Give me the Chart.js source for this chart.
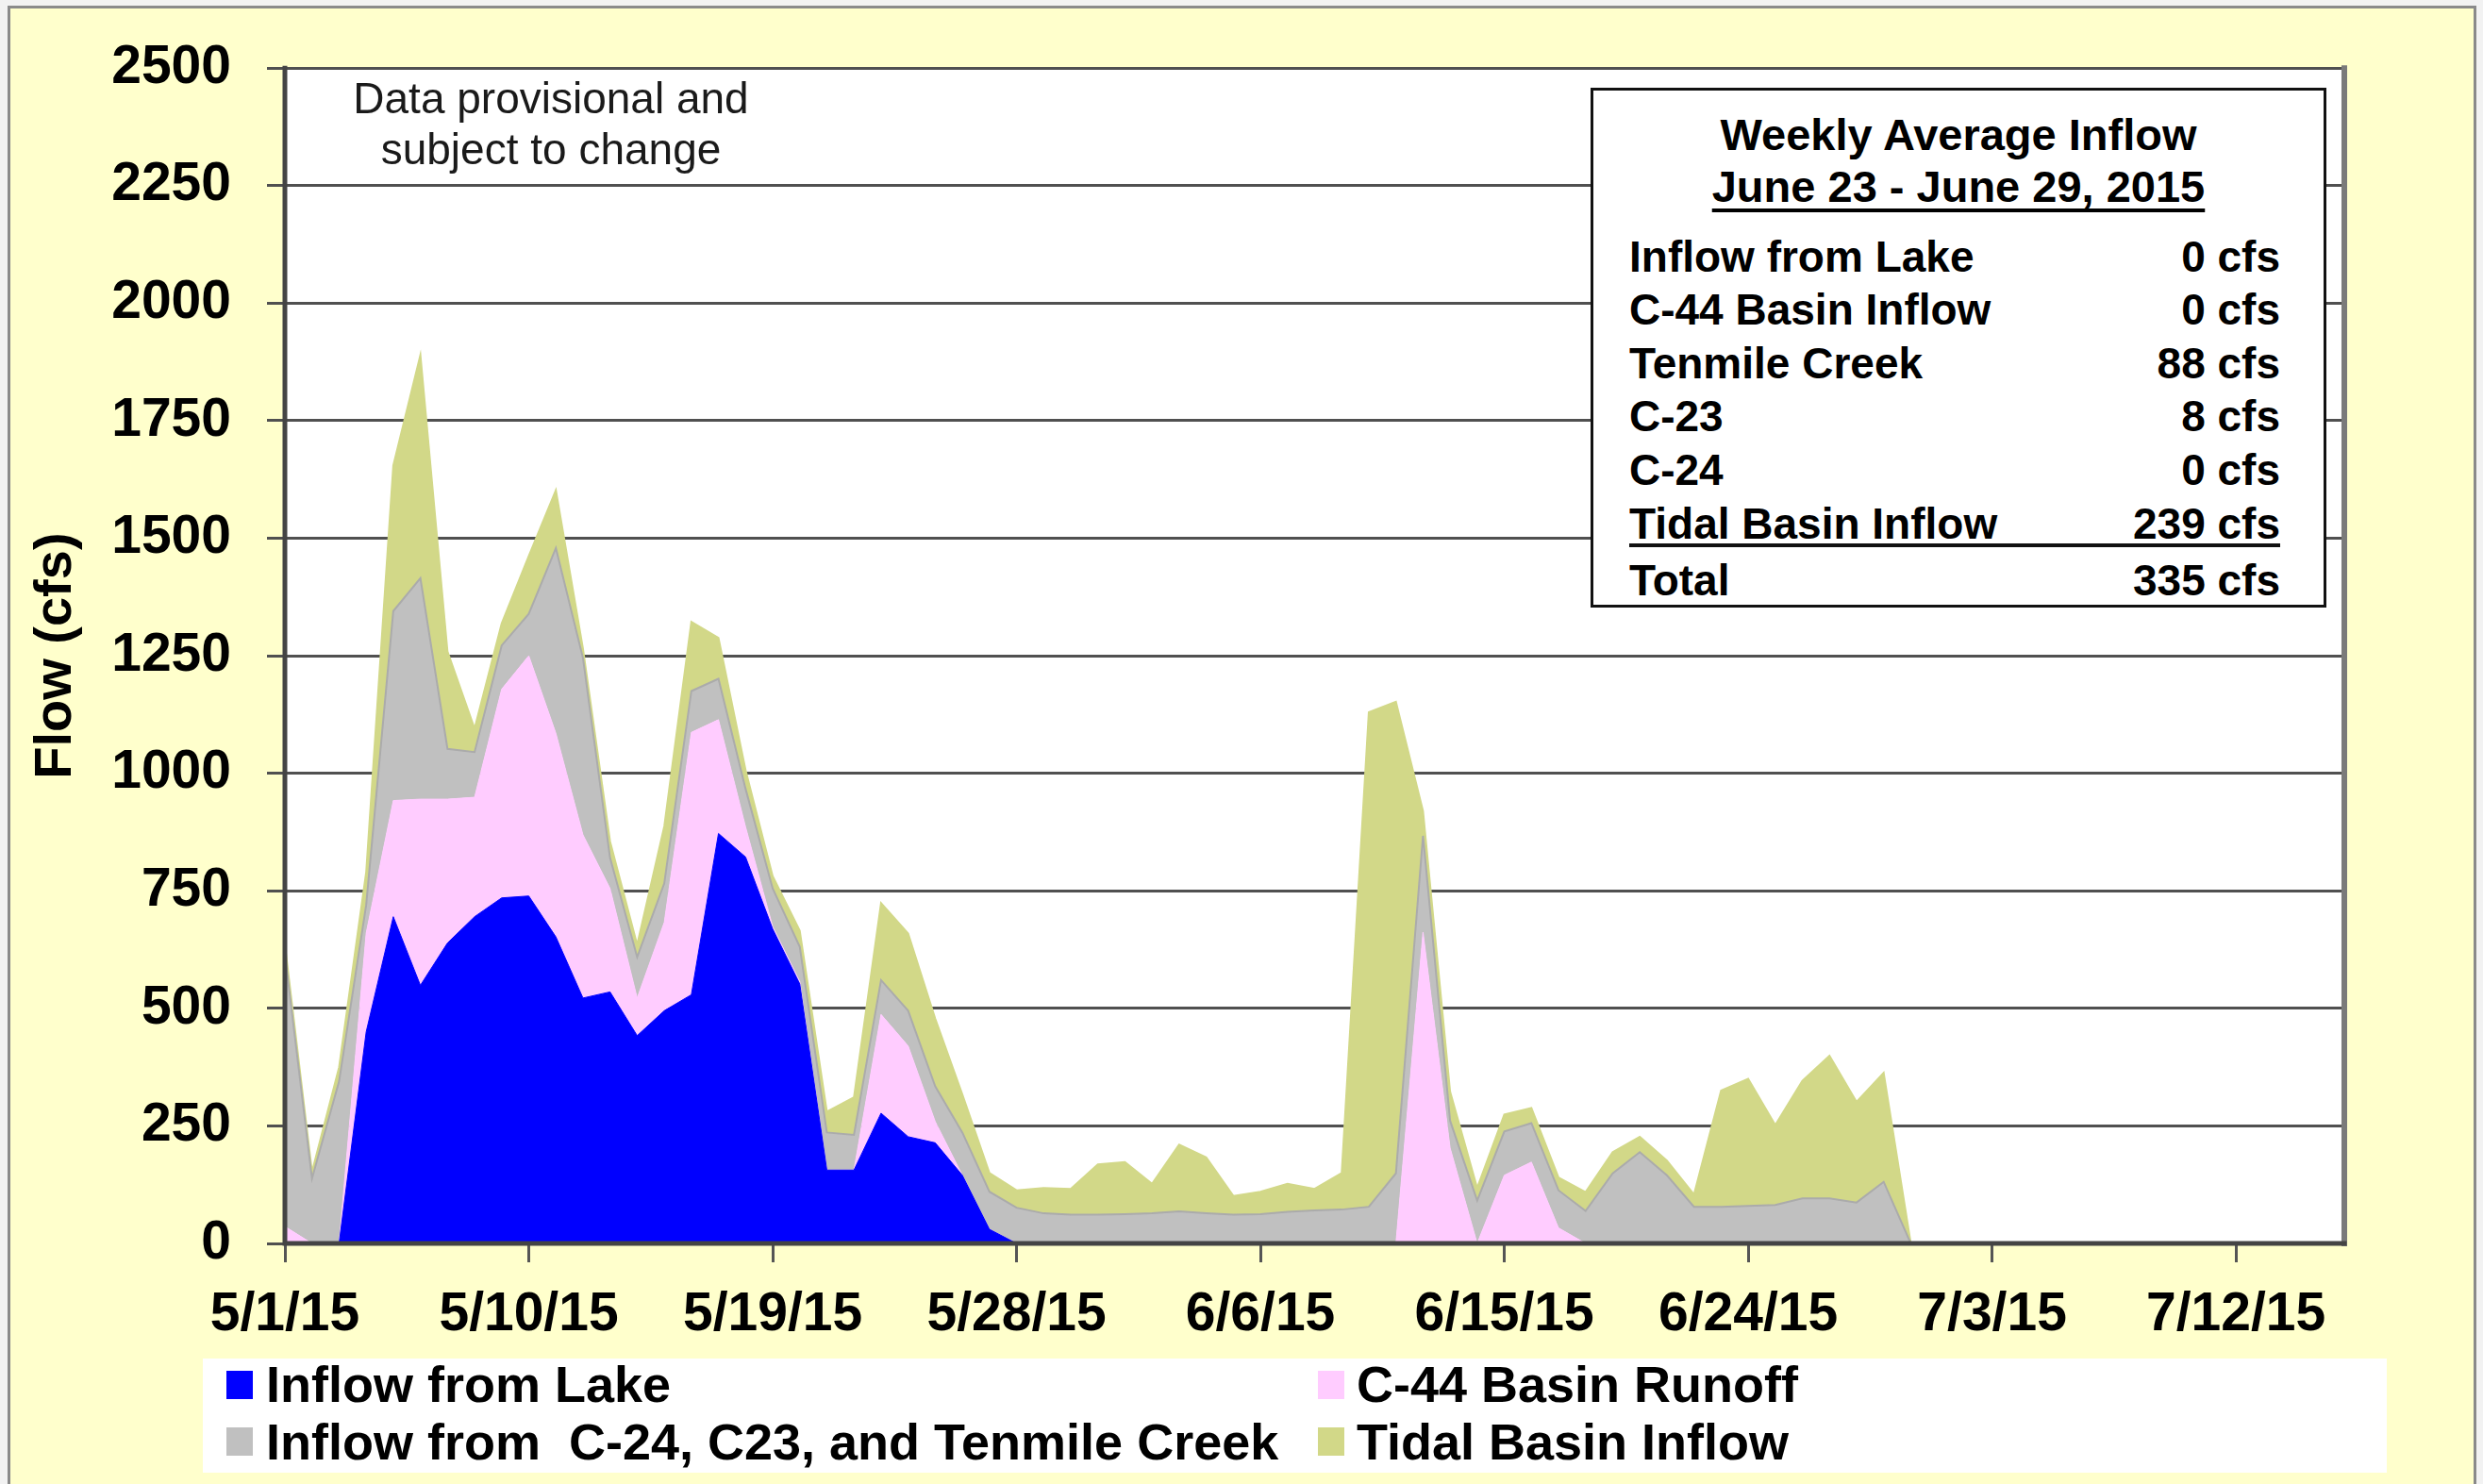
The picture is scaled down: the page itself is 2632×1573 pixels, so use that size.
<!DOCTYPE html>
<html lang="en">
<head>
<meta charset="UTF-8">
<title>Weekly Average Inflow</title>
<script src="https://cdn.jsdelivr.net/npm/chart.js"></script>
<style>
  body {
    margin: 0;
    width: 2632px;
    height: 1573px;
    overflow: hidden;
    background: #f2f2f2;
    font-family: "Liberation Sans", Arial, sans-serif;
    color: #000;
  }
  #frame {
    position: absolute;
    left: 8px;
    top: 6px;
    width: 2617px;
    height: 1600px;
    box-sizing: border-box;
    background: #FFFFCC;
    border: 3px solid #8a8a8a;
  }
  #chart {
    position: absolute;
    left: 0;
    top: 0;
  }
  .abs { position: absolute; white-space: pre; }
  .note {
    left: 284px; top: 77px; width: 600px;
    text-align: center; font-size: 46px; line-height: 54px; color: #1a1a1a;
  }
  #box {
    left: 1686px; top: 93px; width: 780px; height: 551px;
    box-sizing: border-box; border: 3px solid #111; background: #fff;
  }
  .boxTitle {
    left: 1686px; width: 780px; text-align: center;
    font-weight: bold; font-size: 47px; line-height: 56px;
  }
  .row {
    left: 1727px; width: 690px; height: 56px; line-height: 56px;
    font-weight: bold; font-size: 46px;
    display: flex; justify-content: space-between;
  }
  #legendBox {
    left: 215px; top: 1440px; width: 2315px; height: 121px; background: #fff;
  }
  .sw { width: 28px; height: 30px; }
  .lg { font-weight: bold; font-size: 54px; line-height: 60px; }
</style>
</head>
<body>
<div id="frame"></div>
<canvas id="chart" width="2632" height="1573"></canvas>

<div class="abs note">Data provisional and
subject to change</div>

<div class="abs" id="box"></div>
<div class="abs boxTitle" style="top:115px;">Weekly Average Inflow</div>
<div class="abs boxTitle" style="top:170px;text-decoration:underline;text-decoration-thickness:4px;text-underline-offset:7px;">June 23 - June 29, 2015</div>
<div id="rows"></div>
<div class="abs" style="left:1727px;top:576px;width:690px;height:4px;background:#111;"></div>

<div class="abs" id="legendBox"></div>
<div class="abs sw" style="left:240px;top:1453px;background:#0000FF;"></div>
<div class="abs lg" style="left:282px;top:1437px;">Inflow from Lake</div>
<div class="abs sw" style="left:1397px;top:1453px;background:#FFCCFF;"></div>
<div class="abs lg" style="left:1438px;top:1437px;">C-44 Basin Runoff</div>
<div class="abs sw" style="left:240px;top:1513px;background:#C0C0C0;"></div>
<div class="abs lg" style="left:282px;top:1498px;">Inflow from  C-24, C23, and Tenmile Creek</div>
<div class="abs sw" style="left:1397px;top:1513px;background:rgb(210,216,136);"></div>
<div class="abs lg" style="left:1438px;top:1498px;">Tidal Basin Inflow</div>

<script>
// x axis: days since 5/1/15, one tick every 9 days
const xTickLabels = ['5/1/15', '5/10/15', '5/19/15', '5/28/15', '6/6/15', '6/15/15', '6/24/15', '7/3/15', '7/12/15'];

// daily flows (cfs), 5/1/15 .. 6/30/15
const lakeInflow = [0, 0, 0, 450, 695, 549, 639, 695, 735, 739,
    652, 522, 535, 442, 495, 529, 872, 822, 669, 552,
    156, 156, 277, 227, 214, 145, 30, 0, 0, 0,
    0, 0, 0, 0, 0, 0, 0, 0, 0, 0,
    0, 0, 0, 0, 0, 0, 0, 0, 0, 0,
    0, 0, 0, 0, 0, 0, 0, 0, 0, 0,
    0];
const c44Runoff = [36, 0, 0, 210, 247, 396, 306, 254, 444, 511,
    433, 347, 220, 80, 188, 558, 242, 64, 5, 5,
    0, 0, 210, 193, 45, 0, 0, 0, 0, 0,
    0, 0, 0, 0, 0, 0, 0, 0, 0, 0,
    0, 0, 662, 203, 0, 145, 173, 33, 0, 0,
    0, 0, 0, 0, 0, 0, 0, 0, 0, 0,
    0];
const c24c23Tenmile = [579, 138, 345, 60, 403, 470, 107, 96, 93, 89,
    394, 376, 65, 87, 83, 88, 87, 81, 81, 74,
    80, 75, 73, 75, 75, 91, 80, 76, 64, 61,
    61, 62, 64, 68, 64, 61, 62, 67, 70, 72,
    78, 149, 205, 58, 91, 93, 83, 80, 69, 149,
    194, 145, 78, 78, 80, 82, 96, 96, 87, 131,
    0];
const tidalBasin = [20, 14, 30, 70, 310, 475, 207, 50, 47, 123,
    123, 20, 35, 26, 121, 147, 87, 40, 26, 34,
    44, 80, 164, 164, 144, 81, 40, 37, 54, 55,
    107, 111, 63, 142, 119, 40, 48, 60, 46, 78,
    1052, 1003, 53, 62, 27, 36, 32, 27, 40, 45,
    33, 31, 26, 247, 270, 170, 250, 303, 214, 232,
    0];

// weekly summary box
const summaryLabels = ['Inflow from Lake', 'C-44 Basin Inflow', 'Tenmile Creek', 'C-23', 'C-24', 'Tidal Basin Inflow', 'Total'];
const summaryValues = ['0 cfs', '0 cfs', '88 cfs', '8 cfs', '0 cfs', '239 cfs', '335 cfs'];
const rowCenters = [272, 328, 385, 441, 498, 555, 615];

const rowsDiv = document.getElementById('rows');
summaryLabels.forEach((lab, i) => {
    const r = document.createElement('div');
    r.className = 'abs row';
    r.style.top = (rowCenters[i] - 28) + 'px';
    r.innerHTML = '<span>' + lab + '</span><span>' + summaryValues[i] + '</span>';
    rowsDiv.appendChild(r);
});

const days = lakeInflow.map((_, i) => i);
const pts = arr => arr.map((v, i) => ({ x: days[i], y: v }));

const plotBg = {
    id: 'plotBg',
    beforeDraw(chart) {
        const a = chart.chartArea, c = chart.ctx;
        c.save();
        c.fillStyle = '#fff';
        c.fillRect(a.left, a.top, a.right - a.left, a.bottom - a.top);
        c.restore();
    }
};

const frame = {
    id: 'frame',
    afterDatasetsDraw(chart) {
        const a = chart.chartArea, c = chart.ctx;
        c.save();
        c.lineCap = 'square';
        c.strokeStyle = '#7a7a7a';
        c.lineWidth = 6;
        c.beginPath();
        c.moveTo(a.right, a.top);
        c.lineTo(a.right, a.bottom);
        c.stroke();
        c.strokeStyle = '#444';
        c.lineWidth = 5;
        c.beginPath();
        c.moveTo(a.left, a.top);
        c.lineTo(a.left, a.bottom);
        c.lineTo(a.right, a.bottom);
        c.stroke();
        c.restore();
    }
};

Chart.defaults.font.family = '"Liberation Sans", Arial, sans-serif';
Chart.defaults.color = '#000';

new Chart(document.getElementById('chart'), {
    type: 'line',
    data: {
        datasets: [
            { label: 'Inflow from Lake', data: pts(lakeInflow), backgroundColor: '#0000FF', borderColor: '#0000FF', borderWidth: 1, fill: 'origin' },
            { label: 'C-44 Basin Runoff', data: pts(c44Runoff), backgroundColor: '#FFCCFF', borderColor: '#FFCCFF', borderWidth: 1, fill: '-1' },
            { label: 'Inflow from  C-24, C23, and Tenmile Creek', data: pts(c24c23Tenmile), backgroundColor: '#C0C0C0', borderColor: '#ABABAB', borderWidth: 2, fill: '-1' },
            { label: 'Tidal Basin Inflow', data: pts(tidalBasin), backgroundColor: 'rgb(210,216,136)', borderColor: 'rgb(210,216,136)', borderWidth: 2, fill: '-1' }
        ]
    },
    options: {
        responsive: false,
        animation: false,
        layout: { padding: { top: 68, right: 147, left: 0, bottom: 0 } },
        elements: { point: { radius: 0 }, line: { tension: 0 } },
        plugins: { legend: { display: false }, tooltip: { enabled: false } },
        scales: {
            x: {
                type: 'linear',
                min: 0,
                max: 76,
                afterFit(s) { s.height = 255; },
                border: { display: false },
                grid: { drawOnChartArea: false, drawTicks: true, tickLength: 20, color: '#555', lineWidth: 3 },
                ticks: {
                    stepSize: 9,
                    includeBounds: false,
                    autoSkip: false,
                    maxRotation: 0,
                    padding: 22,
                    font: { size: 57, weight: 'bold' },
                    callback: v => xTickLabels[v / 9] ?? ''
                }
            },
            y: {
                stacked: true,
                min: 0,
                max: 2500,
                afterFit(s) { s.width = 302; },
                border: { display: false },
                grid: { color: '#505050', lineWidth: 3, tickLength: 19 },
                ticks: { stepSize: 250, padding: 38, font: { size: 57, weight: 'bold' }, callback: v => String(v) },
                title: { display: true, text: 'Flow (cfs)', font: { size: 56, weight: 'bold' }, padding: { top: 26, bottom: 0 } }
            }
        }
    },
    plugins: [plotBg, frame]
});
</script>
</body>
</html>
